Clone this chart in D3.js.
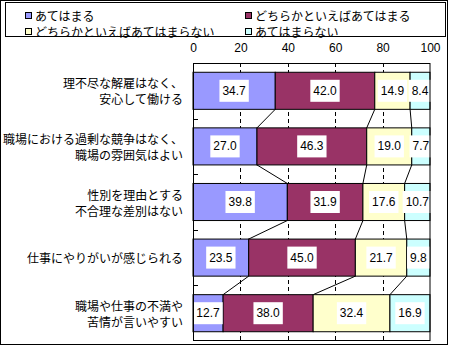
<!DOCTYPE html>
<html><head><meta charset="utf-8">
<script src="https://cdn.jsdelivr.net/npm/d3@7"></script>
<style>body{margin:0;background:#fff}svg{display:block}</style>
</head><body>
<svg id="c" width="450" height="346"></svg>
<script>
const categories = [
  ["理不尽な解雇はなく、","安心して働ける"],
  ["職場における過剰な競争はなく、","職場の雰囲気はよい"],
  ["性別を理由とする","不合理な差別はない"],
  ["仕事にやりがいが感じられる"],
  ["職場や仕事の不満や","苦情が言いやすい"]
];
const seriesNames = ["あてはまる","どちらかといえばあてはまる","どちらかといえばあてはまらない","あてはまらない"];
const s1 = [34.7, 27.0, 39.8, 23.5, 12.7];
const s2 = [42.0, 46.3, 31.9, 45.0, 38.0];
const s3 = [14.9, 19.0, 17.6, 21.7, 32.4];
const s4 = [8.4, 7.7, 10.7, 9.8, 16.9];
const tickValues = [0, 20, 40, 60, 80, 100];
const colors = ["#9999FF","#993366","#FFFFCC","#CCFFFF"];

const svg = d3.select("#c");
const jp = "'Noto Sans CJK JP', sans-serif";
const num = "'Liberation Sans', Arial, sans-serif";

// outer border
svg.append("rect").attr("x",0.5).attr("y",0.5).attr("width",447).attr("height",344)
  .attr("fill","#fff").attr("stroke","#000");

// legend
svg.append("rect").attr("x",5.5).attr("y",2.5).attr("width",440).attr("height",34)
  .attr("fill","#fff").attr("stroke","#000");
const legPos = [[25,12],[245,12],[25,28],[245,28]];
seriesNames.forEach((n,i)=>{
  const [lx,ly] = legPos[i];
  svg.append("rect").attr("x",lx+0.5).attr("y",ly+0.5).attr("width",6).attr("height",6)
    .attr("fill",colors[i]).attr("stroke","#000");
  svg.append("text").attr("x",lx+10).attr("y",ly+3.5).attr("dominant-baseline","central")
    .attr("font-family",jp).attr("font-size",12).attr("fill","#000").text(n);
});

const x = d3.scaleLinear().domain([0,100]).range([193,430]);
const idx = d3.range(categories.length);
const y = d3.scaleBand().domain(idx).range([63,341]).paddingInner(1/3).paddingOuter(1/6);

// plot area
svg.append("rect").attr("x",193).attr("y",63).attr("width",237).attr("height",278)
  .attr("fill","#fff").attr("stroke","none");

// gridlines
svg.append("g").selectAll("line").data(tickValues.slice(1,-1)).join("line")
  .attr("x1",d=>Math.round(x(d))+0.5).attr("x2",d=>Math.round(x(d))+0.5)
  .attr("y1",63).attr("y2",341).attr("stroke","#000").attr("stroke-dasharray","4,3");

// axis tick labels on top
const axis = d3.axisTop(x).tickValues(tickValues).tickSize(0).tickPadding(0);
const ag = svg.append("g").attr("transform","translate(0,52)").call(axis);
ag.select(".domain").remove();
ag.selectAll("text").attr("font-family",num).attr("font-size",12).attr("fill","#000");

// stacked data
const data = idx.map(i=>({i, v:[s1[i],s2[i],s3[i],s4[i]]}));
const stacked = data.map(d=>{let c=0; return d.v.map(v=>{const a=c; c+=v; return [a,c,v];});});

// connector lines
for (let i=0;i<categories.length-1;i++){
  for (let k=0;k<3;k++){
    svg.append("line")
      .attr("x1",x(stacked[i][k][1])).attr("y1",y(i)+y.bandwidth())
      .attr("x2",x(stacked[i+1][k][1])).attr("y2",y(i+1))
      .attr("stroke","#000").attr("stroke-width",1);
  }
}

// bars
idx.forEach(i=>{
  stacked[i].forEach((s,k)=>{
    svg.append("rect").attr("x",x(s[0])).attr("y",y(i))
      .attr("width",x(s[1])-x(s[0])).attr("height",y.bandwidth())
      .attr("fill",colors[k]).attr("stroke","#000").attr("stroke-width",1);
  });
});

// labels
idx.forEach(i=>{
  stacked[i].forEach((s,k)=>{
    const cx = x((s[0]+s[1])/2), cy = y(i)+y.bandwidth()/2;
    const t = svg.append("text").attr("x",cx).attr("y",cy).attr("text-anchor","middle")
      .attr("dominant-baseline","central").attr("font-family",num).attr("font-size",12)
      .attr("fill","#000").text(s[2].toFixed(1));
    const w = t.node().getComputedTextLength();
    svg.insert("rect", () => t.node()).attr("x",cx-w/2-3).attr("y",cy-11)
      .attr("width",w+6).attr("height",22).attr("fill","#fff");
  });
});

// plot border
svg.append("rect").attr("x",193.5).attr("y",63.5).attr("width",236.5).attr("height",277)
  .attr("fill","none").attr("stroke","#000");

// category boundary ticks
svg.append("g").selectAll("line").data(d3.range(1,categories.length)).join("line")
  .attr("x1",193).attr("x2",198)
  .attr("y1",d=>Math.round(63+d*y.step())+0.5).attr("y2",d=>Math.round(63+d*y.step())+0.5)
  .attr("stroke","#000");

// category labels
categories.forEach((lines,i)=>{
  const cy = y(i)+y.bandwidth()/2;
  const n = lines.length;
  lines.forEach((ln,j)=>{
    svg.append("text").attr("x",183).attr("y",cy+(j-(n-1)/2)*16)
      .attr("text-anchor","end").attr("dominant-baseline","central")
      .attr("font-family",jp).attr("font-size",12).attr("fill","#000").text(ln);
  });
});
</script>
</body></html>
